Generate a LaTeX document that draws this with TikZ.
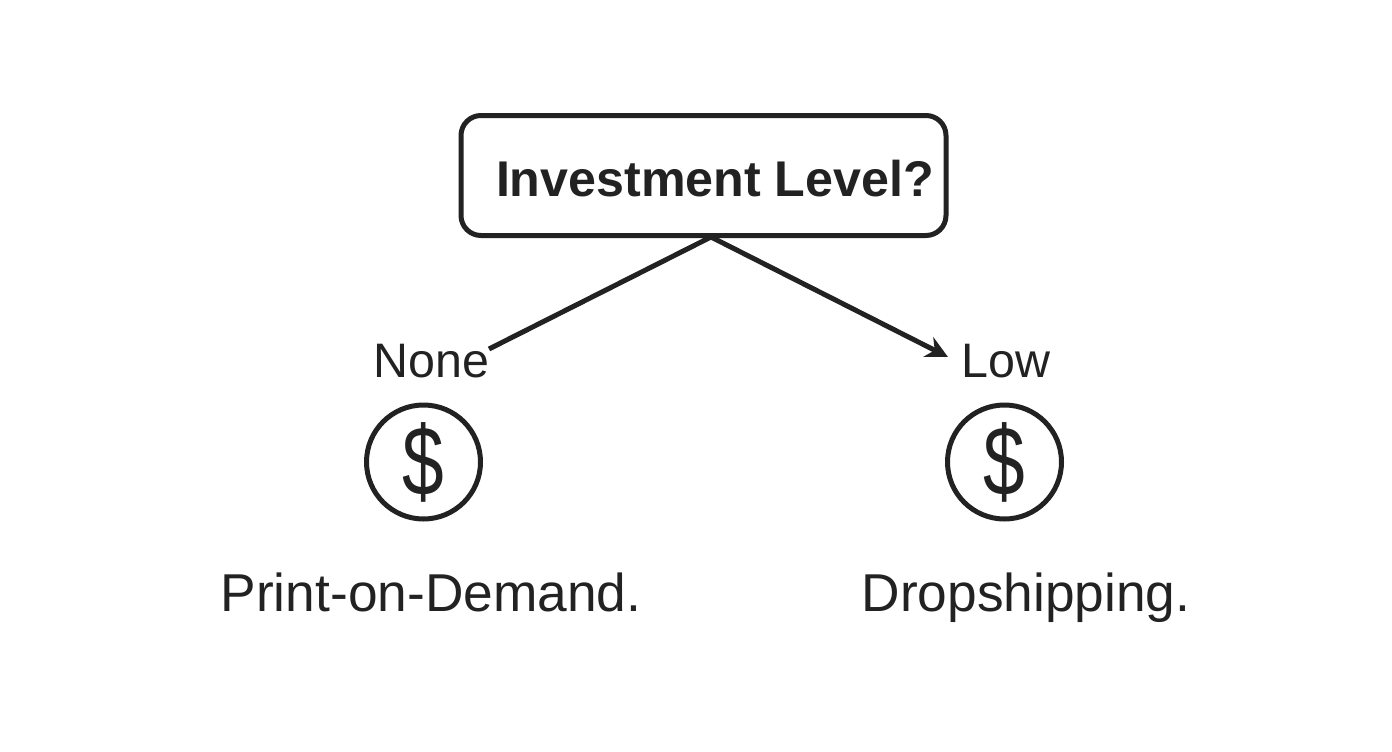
\documentclass[tikz,border=0pt]{standalone}
\usepackage{fontspec}
\usepackage{graphicx}
\setmainfont{Liberation Sans}
\usetikzlibrary{positioning,arrows.meta}
\definecolor{inkc}{HTML}{222222}
\begin{document}
\begin{tikzpicture}
            [
            x=1pt, y=-1pt, on grid,
            every node/.style={text=inkc},
            question/.style={rectangle, draw=inkc, line width=5pt, rounded corners=20pt,
                minimum width=485pt, minimum height=120pt, inner sep=0pt,
                text height=41pt, text depth=0pt,
                font=\fontsize{50.2}{60}\selectfont\bfseries},
            branch/.style={font=\fontsize{48.4}{56}\selectfont, inner sep=0pt,
                text height=36pt, text depth=10pt},
            coin/.style={circle, draw=inkc, line width=5pt, minimum width=114pt,
                inner sep=0pt, font=\fontsize{88}{100}\selectfont},
            result/.style={font=\fontsize{53.3}{58}\selectfont, inner sep=0pt,
                text height=38pt, text depth=12pt},
            link/.style={draw=inkc, line width=5pt}
            ]
            \useasboundingbox (0,0) rectangle (1392,752);

            \node (q) [question] at (703.5,175.5) {\hspace{23pt}Investment Level?};

            \node (none) [branch] at (431.5,364) {None};
            \node (low) [branch, right=574.5pt of none] {Low};
            \node (coina) [coin] at (423.5,462) {\scalebox{0.85}[1.12]{\$}};
            \node (coinb) [coin, right=581pt of coina] {\scalebox{0.85}[1.12]{\$}};
            \node (pod) [result] at (431,598) {Print-on-Demand.};
            \node (drop) [result, right=595pt of pod] {Dropshipping.};

            % Free ends of the two branches
            \coordinate (apex) at (711,237);
            \coordinate (enda) at (489,349);
            \coordinate (endb) at (948,357);

            \draw [link] (apex) -- (enda);
            \draw [link, -{Stealth[length=22pt,width=22pt]}] (apex) -- (endb);

        \end{tikzpicture}
\end{document}
